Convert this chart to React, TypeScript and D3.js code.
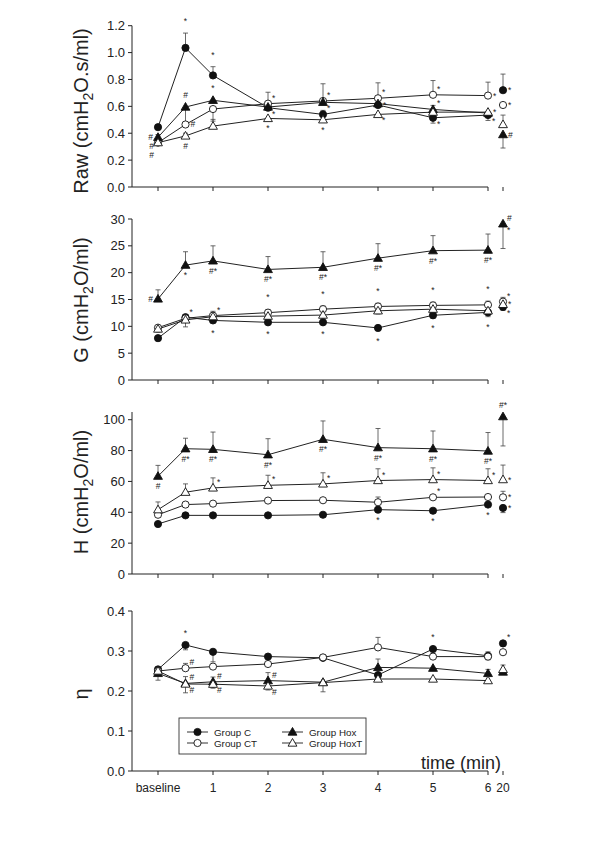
import React from "react";
import * as d3 from "d3";

// ---------- data ----------
const times = [0, 0.5, 1, 2, 3, 4, 5, 6, 20];
const tickTimes = [0, 1, 2, 3, 4, 5, 6, 20];
const tickLabels = ["baseline", "1", "2", "3", "4", "5", "6", "20"];
const groupKeys = ["C", "CT", "Hox", "HoxT"];
const groupLabels = ["Group C", "Group CT", "Group Hox", "Group HoxT"];

// Raw (cmH2O.s/ml)
const rawC = [0.445, 1.035, 0.83, 0.59, 0.54, 0.61, 0.515, 0.535, 0.72];
const rawCErr = [0.02, 0.11, 0.065, 0, 0.03, 0.04, -0.04, -0.04, 0.12];
const rawCT = [0.33, 0.465, 0.58, 0.62, 0.64, 0.66, 0.686, 0.68, 0.61];
const rawCTErr = [0.01, 0.13, -0.09, 0.085, 0.128, 0.115, 0.106, 0.1, 0];
const rawHox = [0.37, 0.595, 0.645, 0.595, 0.63, 0.62, 0.577, 0.55, 0.39];
const rawHoxErr = [0.02, 0, 0, 0, 0, 0, 0.03, 0, -0.1];
const rawHoxT = [0.33, 0.38, 0.453, 0.51, 0.5, 0.54, 0.557, 0.557, 0.465];
const rawHoxTErr = [0, 0.02, 0.05, 0, 0, 0, 0, 0, 0.07];
const rawTicks = [0, 0.2, 0.4, 0.6, 0.8, 1.0, 1.2];
const rawNotes: [string, number, string, string][] = [
  ["C", 1, "*", "n"], ["C", 2, "*", "n"], ["Hox", 1, "#", "n"], ["Hox", 2, "*", "n"],
  ["CT", 1, "#", "e"], ["HoxT", 1, "#", "s"],
  ["Hox", 0, "#", "w"], ["CT", 0, "#", "sw"], ["HoxT", 0, "#", "sw2"],
  ["CT", 3, "*", "ne"], ["C", 3, "*", "se"], ["HoxT", 3, "*", "s"],
  ["CT", 4, "*", "ne"], ["Hox", 4, "*", "se"], ["HoxT", 4, "*", "s"],
  ["CT", 5, "*", "ne"], ["C", 5, "*", "e"], ["HoxT", 5, "*", "se"],
  ["CT", 6, "*", "ne"], ["Hox", 6, "*", "ne"], ["C", 6, "*", "se"],
  ["CT", 7, "*", "e"], ["HoxT", 7, "*", "e"], ["C", 7, "*", "se"],
  ["C", 8, "*", "e"], ["CT", 8, "*", "e"], ["Hox", 8, "#", "e"],
];

// G (cmH2O/ml)
const gC = [7.8, 11.7, 11.1, 10.75, 10.75, 9.7, 12.06, 12.6, 13.6];
const gCErr = [-0.4, 0, -0.4, -0.4, -0.4, -0.5, -0.6, -0.8, -0.6];
const gCT = [9.75, 11.5, 12.0, 12.55, 13.2, 13.7, 13.9, 14.0, 14.6];
const gCTErr = [0.3, 0.4, 0.8, 0.6, 0.6, 0.6, 0.6, 0.7, 0.8];
const gHox = [15.1, 21.4, 22.2, 20.6, 21.0, 22.7, 24.1, 24.2, 29.1];
const gHoxErr = [1.7, 2.5, 2.8, 2.4, 2.9, 2.7, 2.8, 3.0, -4.6];
const gHoxT = [9.5, 11.2, 11.8, 11.9, 12.1, 12.9, 13.2, 12.9, 14.1];
const gHoxTErr = [-0.6, -1.3, -0.5, -0.5, -0.6, -0.6, -0.6, -0.6, -0.8];
const gTicks = [0, 5, 10, 15, 20, 25, 30];
const gNotes: [string, number, string, string][] = [
  ["Hox", 0, "#", "w"], ["Hox", 1, "*", "s"], ["Hox", 2, "#*", "s"], ["Hox", 3, "#*", "s"],
  ["Hox", 4, "#*", "s"], ["Hox", 5, "#*", "s"], ["Hox", 6, "#*", "s"], ["Hox", 7, "#*", "s"],
  ["Hox", 8, "#", "ne"], ["Hox", 8, "*", "se"],
  ["CT", 1, "*", "ne"], ["CT", 2, "*", "ne"], ["C", 2, "*", "s"],
  ["CT", 3, "*", "n"], ["C", 3, "*", "s"], ["CT", 4, "*", "n"], ["C", 4, "*", "s"],
  ["CT", 5, "*", "n"], ["C", 5, "*", "s"], ["CT", 6, "*", "n"], ["C", 6, "*", "s"],
  ["CT", 7, "*", "n"], ["C", 7, "*", "s"],
  ["CT", 8, "*", "ne"], ["HoxT", 8, "*", "e"], ["C", 8, "*", "se"],
];

// H (cmH2O/ml)
const hC = [32.4, 38, 38, 38, 38.4, 41.7, 41.0, 45, 42.8];
const hCErr = [0, 0, 0, 0, 0, 0, 0, 0, -3];
const hCT = [38.4, 45, 45.6, 47.6, 47.8, 46.5, 49.7, 49.9, 49.7];
const hCTErr = [0, 0, 0, 0, 0, 3.4, 0, 0, 3.9];
const hHox = [63.4, 81.2, 80.8, 77.3, 87.3, 81.9, 81.2, 79.7, 102];
const hHoxErr = [7, 6.8, 11.2, 10.4, 11.9, 12.4, 11.5, 12, -19];
const hHoxT = [41.7, 53, 55.8, 57.5, 58.4, 60.6, 61.2, 60.6, 61.2];
const hHoxTErr = [5, 5.4, 6.5, 6.5, 7.2, 7.6, 7.6, 7.6, 9.4];
const hTicks = [0, 20, 40, 60, 80, 100];
const hNotes: [string, number, string, string][] = [
  ["Hox", 0, "#", "s"], ["Hox", 1, "#*", "s"], ["Hox", 2, "#*", "s"], ["Hox", 3, "#*", "s"],
  ["Hox", 4, "#*", "s"], ["Hox", 5, "#*", "s"], ["Hox", 6, "#*", "s"], ["Hox", 7, "#*", "s"],
  ["Hox", 8, "#*", "n"],
  ["HoxT", 2, "*", "ne"], ["HoxT", 3, "*", "ne"], ["HoxT", 4, "*", "ne"], ["HoxT", 5, "*", "ne"],
  ["HoxT", 6, "*", "ne"], ["HoxT", 7, "*", "ne"], ["HoxT", 8, "*", "e"],
  ["CT", 6, "*", "ne"], ["CT", 8, "*", "e"],
  ["C", 5, "*", "s"], ["C", 6, "*", "s"], ["C", 7, "*", "s"], ["C", 8, "*", "e"],
];

// eta
const etaC = [0.254, 0.315, 0.298, 0.286, 0.283, 0.24, 0.305, 0.288, 0.319];
const etaCErr = [0, -0.012, -0.025, 0, 0, 0, -0.01, -0.01, 0];
const etaCT = [0.25, 0.257, 0.261, 0.2675, 0.284, 0.309, 0.286, 0.286, 0.297];
const etaCTErr = [0, 0.012, 0, 0, 0, 0.025, 0, 0.012, 0];
const etaHox = [0.244, 0.219, 0.223, 0.226, 0.222, 0.259, 0.257, 0.244, 0.2475];
const etaHoxErr = [-0.017, 0.017, 0.012, 0.02, 0, 0.021, 0, 0.01, 0];
const etaHoxT = [0.25, 0.2175, 0.217, 0.2125, 0.221, 0.23, 0.23, 0.226, 0.254];
const etaHoxTErr = [0, -0.022, -0.01, -0.01, -0.023, 0, 0, 0, 0.011];
const etaTicks = [0, 0.1, 0.2, 0.3, 0.4];
const etaNotes: [string, number, string, string][] = [
  ["C", 1, "*", "n"], ["CT", 1, "#", "ne"], ["Hox", 1, "#", "ne"], ["HoxT", 1, "#", "se"],
  ["Hox", 2, "#", "ne"], ["HoxT", 2, "#", "se"], ["Hox", 3, "#", "ne"], ["HoxT", 3, "#", "se"],
  ["C", 6, "*", "n"], ["C", 8, "*", "ne"],
];

// ---------- layout ----------
const FONT = "'Liberation Sans', Arial, Helvetica, sans-serif";
const AXIS_X = 132;
const x = d3.scaleLinear().domain([0, 6, 20]).range([158, 488, 503]);

type Panel = {
  title: string[];
  domain: [number, number];
  range: [number, number];
  ticks: number[];
  fmt: (v: number) => string;
  series: { key: string; vals: number[]; err: number[] }[];
  notes: [string, number, string, string][];
  titleY: number;
};

const panels: Panel[] = [
  {
    title: ["Raw (cmH", "2", "O.s/ml)"], domain: [0, 1.2], range: [187, 25.7], ticks: rawTicks,
    fmt: d3.format(".1f"), titleY: 111,
    series: [
      { key: "C", vals: rawC, err: rawCErr }, { key: "CT", vals: rawCT, err: rawCTErr },
      { key: "Hox", vals: rawHox, err: rawHoxErr }, { key: "HoxT", vals: rawHoxT, err: rawHoxTErr },
    ],
    notes: rawNotes,
  },
  {
    title: ["G (cmH", "2", "O/ml)"], domain: [0, 30], range: [380, 219], ticks: gTicks,
    fmt: d3.format("d"), titleY: 300,
    series: [
      { key: "C", vals: gC, err: gCErr }, { key: "CT", vals: gCT, err: gCTErr },
      { key: "Hox", vals: gHox, err: gHoxErr }, { key: "HoxT", vals: gHoxT, err: gHoxTErr },
    ],
    notes: gNotes,
  },
  {
    title: ["H (cmH", "2", "O/ml)"], domain: [0, 105], range: [574, 412], ticks: hTicks,
    fmt: d3.format("d"), titleY: 492,
    series: [
      { key: "C", vals: hC, err: hCErr }, { key: "CT", vals: hCT, err: hCTErr },
      { key: "Hox", vals: hHox, err: hHoxErr }, { key: "HoxT", vals: hHoxT, err: hHoxTErr },
    ],
    notes: hNotes,
  },
  {
    title: ["η", "", ""], domain: [0, 0.4], range: [771, 611], ticks: etaTicks,
    fmt: d3.format(".1f"), titleY: 694,
    series: [
      { key: "C", vals: etaC, err: etaCErr }, { key: "CT", vals: etaCT, err: etaCTErr },
      { key: "Hox", vals: etaHox, err: etaHoxErr }, { key: "HoxT", vals: etaHoxT, err: etaHoxTErr },
    ],
    notes: etaNotes,
  },
];

const triPath = d3.symbol(d3.symbolTriangle, 34)() as string;

function Marker({ k, cx, cy }: { k: string; cx: number; cy: number }) {
  const filled = k === "C" || k === "Hox";
  const fill = filled ? "#111" : "#fff";
  if (k === "C" || k === "CT") {
    return <circle cx={cx} cy={cy} r={3.6} fill={fill} stroke="#111" strokeWidth={0.9} />;
  }
  return <path d={triPath} transform={`translate(${cx},${cy + 0.6})`} fill={fill} stroke="#111" strokeWidth={0.9} />;
}

const placements: Record<string, [number, number, string]> = {
  n: [0, -5, "middle"],
  s: [0, 12, "middle"],
  e: [5, 3, "start"],
  w: [-5, 3, "end"],
  ne: [4, -3, "start"],
  se: [4, 9, "start"],
  sw: [-4, 6.5, "end"],
  sw2: [-4, 15.5, "end"],
};

function PanelView({ p, last }: { p: Panel; last: boolean }) {
  const y = d3.scaleLinear().domain(p.domain).range(p.range);
  const y0 = p.range[0];
  const line = d3.line<number>().x((_, i) => x(times[i])).y((v) => y(v));
  return (
    <g>
      <line x1={AXIS_X} x2={AXIS_X} y1={y0} y2={p.range[1]} stroke="#222" strokeWidth={1} />
      {p.ticks.map((t) => (
        <g key={t}>
          <line x1={AXIS_X - 4} x2={AXIS_X} y1={y(t)} y2={y(t)} stroke="#222" />
          <text x={AXIS_X - 7} y={y(t) + 4.6} fontSize={13} textAnchor="end" fill="#222">{p.fmt(t)}</text>
        </g>
      ))}
      <line x1={AXIS_X} x2={x(6)} y1={y0} y2={y0} stroke="#222" strokeWidth={1} />
      {tickTimes.map((t, i) => (
        <g key={t}>
          <line x1={x(t)} x2={x(t)} y1={y0} y2={y0 + 4} stroke="#222" />
          {last && (
            <text x={x(t)} y={y0 + 21} fontSize={12} textAnchor="middle" fill="#222">{tickLabels[i]}</text>
          )}
        </g>
      ))}
      <text transform={`translate(88,${p.titleY}) rotate(-90)`} fontSize={20} textAnchor="middle" fill="#222">
        {p.title[0]}
        {p.title[1] && <tspan dy={5} fontSize={14}>{p.title[1]}</tspan>}
        {p.title[2] && <tspan dy={-5}>{p.title[2]}</tspan>}
      </text>
      {p.series.map((s) => (
        <path key={s.key} d={line(s.vals.slice(0, 8)) as string} fill="none" stroke="#222" strokeWidth={1} />
      ))}
      {p.series.map((s) =>
        s.vals.map((v, i) => {
          const e = s.err[i];
          if (!e) return null;
          const xx = x(times[i]);
          return (
            <g key={s.key + i}>
              <line x1={xx} x2={xx} y1={y(v)} y2={y(v + e)} stroke="#444" strokeWidth={0.8} />
              <line x1={xx - 2.5} x2={xx + 2.5} y1={y(v + e)} y2={y(v + e)} stroke="#444" strokeWidth={0.8} />
            </g>
          );
        })
      )}
      {p.series.map((s) =>
        s.vals.map((v, i) => <Marker key={s.key + "m" + i} k={s.key} cx={x(times[i])} cy={y(v)} />)
      )}
      {p.notes.map(([k, i, t, pos], j) => {
        const s = p.series.find((ss) => ss.key === k)!;
        const v = s.vals[i];
        const e = s.err[i];
        const xx = x(times[i]);
        let yy = y(v);
        const [dx, dy, anchor] = placements[pos];
        if (pos === "n") yy = Math.min(y(v), y(v + e)) - 4;
        if (pos === "s") yy = Math.max(y(v), y(v + e)) + 1;
        return (
          <text key={j} x={xx + dx} y={yy + dy} fontSize={8.5} textAnchor={anchor} fill="#222">{t}</text>
        );
      })}
    </g>
  );
}

export default function App() {
  const legendX = [187, 282];
  const legendY = [732, 743];
  return (
    <svg width={600} height={849} style={{ position: "absolute", left: 0, top: 0, background: "#fff" }} fontFamily={FONT}>
      <rect x={0} y={0} width={600} height={849} fill="#fff" />
      {panels.map((p, i) => (
        <PanelView key={i} p={p} last={i === panels.length - 1} />
      ))}
      <text x={501} y={769} fontSize={18} textAnchor="end" fill="#222">time (min)</text>
      <rect x={179} y={718} width={187} height={36} fill="#fff" stroke="#333" strokeWidth={0.9} />
      {groupKeys.map((k, i) => {
        const col = Math.floor(i / 2);
        const row = i % 2;
        const lx = legendX[col];
        const ly = legendY[row];
        return (
          <g key={k}>
            <line x1={lx} x2={lx + 21} y1={ly} y2={ly} stroke="#333" strokeWidth={1} />
            <Marker k={k} cx={lx + 10.5} cy={ly} />
            <text x={lx + 27} y={ly + 3.5} fontSize={9.8} fill="#222">{groupLabels[i]}</text>
          </g>
        );
      })}
    </svg>
  );
}
